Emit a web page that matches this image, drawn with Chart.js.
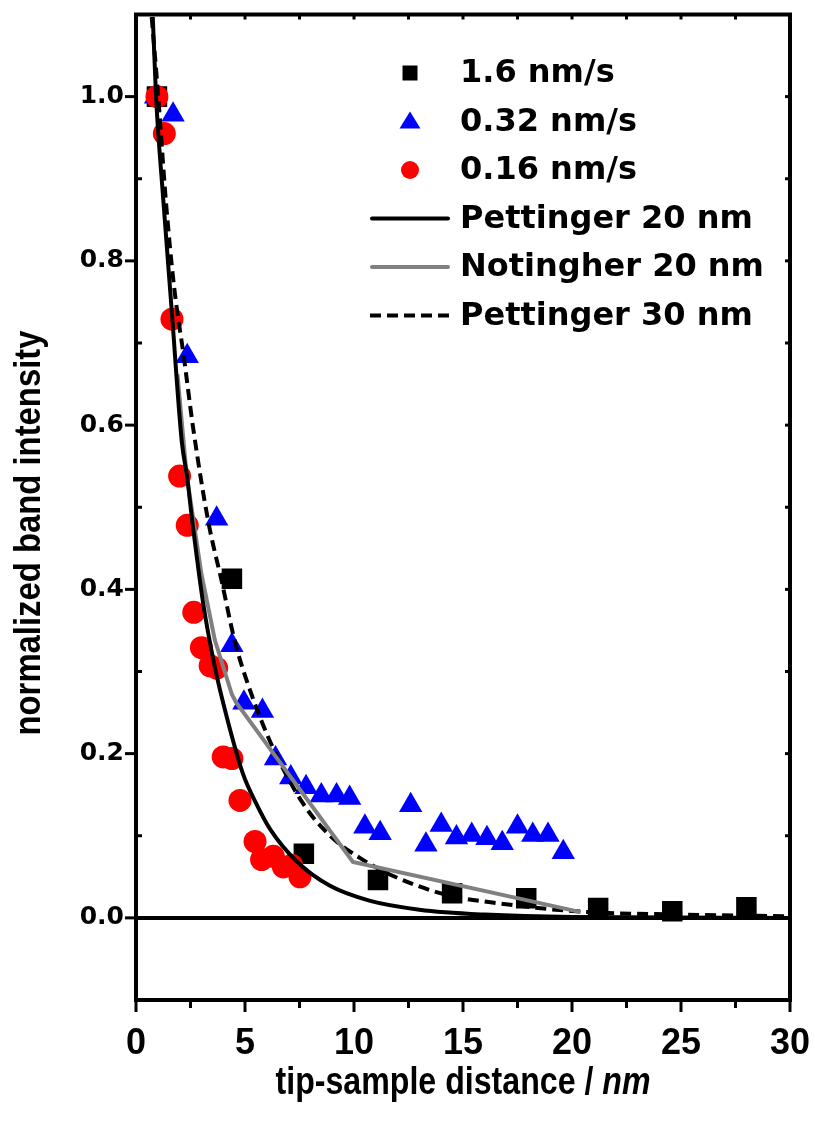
<!DOCTYPE html>
<html>
<head>
<meta charset="utf-8">
<script src="https://cdn.jsdelivr.net/npm/chart.js@4.4.1/dist/chart.umd.min.js"></script>
<style>
html,body{margin:0;padding:0;background:#fff;}
canvas{display:block;}
</style>
</head>
<body>
<canvas id="c" width="815" height="1124"></canvas>
<script>
// ---------- data ----------
const squareX   = [0.96, 4.4, 7.7, 11.1, 14.5, 17.9, 21.2, 24.6, 28.0];
const squareY   = [1.0, 0.413, 0.078, 0.046, 0.030, 0.024, 0.012, 0.008, 0.013];

const triangleX = [0.9, 1.7, 2.35, 3.7, 4.4, 4.95, 5.8, 6.4, 7.1, 7.8, 8.5, 9.2, 9.8, 10.5, 11.2, 12.6, 13.3, 14.0, 14.7, 15.4, 16.1, 16.8, 17.5, 18.2, 18.9, 19.6];
const triangleY = [1.0, 0.978, 0.684, 0.486, 0.332, 0.262, 0.252, 0.194, 0.171, 0.159, 0.149, 0.149, 0.146, 0.111, 0.103, 0.137, 0.089, 0.113, 0.098, 0.101, 0.097, 0.091, 0.111, 0.101, 0.101, 0.080];

const circleX   = [0.96, 1.3, 1.65, 2.0, 2.35, 2.65, 3.0, 3.4, 3.7, 4.0, 4.4, 4.77, 5.46, 5.76, 6.3, 6.76, 7.14, 7.52];
const circleY   = [1.0, 0.955, 0.729, 0.538, 0.478, 0.372, 0.329, 0.307, 0.304, 0.196, 0.194, 0.143, 0.093, 0.071, 0.075, 0.062, 0.064, 0.050];

const pett20X   = [0.77, 0.92, 1.25, 1.64, 2.1, 2.35, 2.55, 3.07, 3.62, 4.16, 4.9, 5.5, 6.15, 7.4, 8.9, 10.7, 13.0, 16.0, 20.0, 30.0];
const pett20Y   = [1.097, 1.0, 0.875, 0.739, 0.58, 0.536, 0.49, 0.385, 0.305, 0.245, 0.176, 0.14, 0.108, 0.068, 0.039, 0.021, 0.010, 0.004, 0.001, 0.0];

const noting20X = [1.9, 2.32, 3.0, 3.62, 4.4, 4.6, 9.95, 20.4];
const noting20Y = [0.662, 0.54, 0.419, 0.338, 0.272, 0.262, 0.068, 0.007];

const pett30X   = [0.72, 1.02, 1.38, 1.74, 2.2, 2.63, 3.32, 3.93, 4.54, 5.3, 6.3, 7.67, 8.9, 10.3, 11.8, 14.25, 16.7, 20.45, 25.0, 30.0];
const pett30Y   = [1.097, 1.0, 0.87, 0.77, 0.682, 0.595, 0.482, 0.41, 0.336, 0.272, 0.206, 0.139, 0.1, 0.0725, 0.051, 0.028, 0.0175, 0.0075, 0.004, 0.002];

const seriesLabels = ['1.6 nm/s', '0.32 nm/s', '0.16 nm/s', 'Pettinger 20 nm', 'Notingher 20 nm', 'Pettinger 30 nm'];

const xTickValues  = [0, 5, 10, 15, 20, 25, 30];
const xMinorValues = [2.5, 7.5, 12.5, 17.5, 22.5, 27.5];
const yTickValues  = [0, 0.2, 0.4, 0.6, 0.8, 1.0];
const yTickLabels  = ['0.0', '0.2', '0.4', '0.6', '0.8', '1.0'];
const yMinorValues = [-0.1, 0.1, 0.3, 0.5, 0.7, 0.9, 1.1];

const xTitleMain = 'tip-sample distance / ';
const xTitleUnit = 'nm';
const yTitle     = 'normalized band intensity';

// ---------- helpers ----------
const pts = (xs, ys) => xs.map((v, i) => ({x: v, y: ys[i]}));
const zeroPad = s => { s.paddingTop = 0; s.paddingBottom = 0; s.paddingLeft = 0; s.paddingRight = 0; };

const decor = {
  id: 'decor',
  beforeDatasetsDraw(chart) {
    const {ctx, chartArea: a, scales: {y}} = chart;
    const py = y.getPixelForValue(0);
    ctx.save();
    ctx.strokeStyle = '#000';
    ctx.lineWidth = 4;
    ctx.beginPath();
    ctx.moveTo(a.left, py);
    ctx.lineTo(a.right, py);
    ctx.stroke();
    ctx.restore();
  },
  afterDraw(chart) {
    const {ctx, chartArea: a, scales: {x, y}} = chart;
    ctx.save();
    ctx.strokeStyle = '#000';
    ctx.lineWidth = 3;
    xTickValues.forEach(v => {
      const px = x.getPixelForValue(v);
      ctx.beginPath(); ctx.moveTo(px, a.bottom); ctx.lineTo(px, a.bottom + 12); ctx.stroke();
      ctx.beginPath(); ctx.moveTo(px, a.top); ctx.lineTo(px, a.top + 5); ctx.stroke();
    });
    xMinorValues.forEach(v => {
      const px = x.getPixelForValue(v);
      ctx.beginPath(); ctx.moveTo(px, a.bottom); ctx.lineTo(px, a.bottom + 8); ctx.stroke();
      ctx.beginPath(); ctx.moveTo(px, a.top); ctx.lineTo(px, a.top + 5); ctx.stroke();
    });
    yTickValues.forEach(v => {
      const py = y.getPixelForValue(v);
      ctx.beginPath(); ctx.moveTo(a.left - 11, py); ctx.lineTo(a.left, py); ctx.stroke();
      ctx.beginPath(); ctx.moveTo(a.right, py); ctx.lineTo(a.right - 5, py); ctx.stroke();
    });
    yMinorValues.forEach(v => {
      const py = y.getPixelForValue(v);
      ctx.beginPath(); ctx.moveTo(a.left, py); ctx.lineTo(a.left + 6, py); ctx.stroke();
      ctx.beginPath(); ctx.moveTo(a.right, py); ctx.lineTo(a.right - 5, py); ctx.stroke();
    });
    ctx.lineWidth = 4;
    ctx.strokeRect(a.left, a.top, a.width, a.height);

    // axis titles
    ctx.fillStyle = '#000';
    ctx.textBaseline = 'middle';
    ctx.textAlign = 'left';
    const f1 = 'bold 39px "Liberation Sans", Arial, sans-serif';
    const f2 = 'italic bold 39px "Liberation Sans", Arial, sans-serif';
    ctx.font = f1; const w1 = ctx.measureText(xTitleMain).width;
    ctx.font = f2; const w2 = ctx.measureText(xTitleUnit).width;
    const sx = 375 / (w1 + w2);
    ctx.save();
    ctx.translate((a.left + a.right) / 2 - 375 / 2, 1083);
    ctx.scale(sx, 1);
    ctx.font = f1; ctx.fillText(xTitleMain, 0, 0);
    ctx.font = f2; ctx.fillText(xTitleUnit, w1, 0);
    ctx.restore();

    ctx.save();
    const f3 = 'bold 36px "Liberation Sans", Arial, sans-serif';
    ctx.font = f3;
    const wy = ctx.measureText(yTitle).width;
    const sy = 405 / wy;
    ctx.translate(30, 533);
    ctx.rotate(-Math.PI / 2);
    ctx.scale(sy, 1);
    ctx.textAlign = 'center';
    ctx.fillText(yTitle, 0, 0);
    ctx.restore();

    // legend
    const lx = 410, tx = 460, y0 = 73, dy = 48.5;
    ctx.font = 'bold 32px "DejaVu Sans", sans-serif';
    ctx.textAlign = 'left';
    ctx.textBaseline = 'middle';
    seriesLabels.forEach((t, i) => ctx.fillText(t, tx, y0 + i * dy + 1));
    ctx.fillStyle = '#000';
    ctx.fillRect(lx - 7.5, y0 - 7.5, 15, 15);
    ctx.fillStyle = '#0000ff';
    ctx.beginPath();
    ctx.moveTo(lx, y0 + dy - 10); ctx.lineTo(lx + 10.5, y0 + dy + 7); ctx.lineTo(lx - 10.5, y0 + dy + 7);
    ctx.closePath(); ctx.fill();
    ctx.fillStyle = '#ff0000';
    ctx.beginPath(); ctx.arc(lx, y0 + 2 * dy, 9, 0, Math.PI * 2); ctx.fill();
    ctx.lineWidth = 4;
    ctx.lineCap = 'round';
    ctx.strokeStyle = '#000';
    ctx.beginPath(); ctx.moveTo(372, y0 + 3 * dy); ctx.lineTo(448, y0 + 3 * dy); ctx.stroke();
    ctx.strokeStyle = '#808080';
    ctx.beginPath(); ctx.moveTo(372, y0 + 4 * dy); ctx.lineTo(448, y0 + 4 * dy); ctx.stroke();
    ctx.strokeStyle = '#000';
    ctx.lineCap = 'butt';
    ctx.setLineDash([11, 6]);
    ctx.beginPath(); ctx.moveTo(370, y0 + 5 * dy); ctx.lineTo(450, y0 + 5 * dy); ctx.stroke();
    ctx.setLineDash([]);
    ctx.restore();
  }
};

new Chart(document.getElementById('c'), {
  type: 'scatter',
  data: {
    datasets: [
      {label: seriesLabels[3], data: pts(pett20X, pett20Y), showLine: true, borderColor: '#000', borderWidth: 4, pointRadius: 0, cubicInterpolationMode: 'monotone', order: 0},
      {label: seriesLabels[4], data: pts(noting20X, noting20Y), showLine: true, borderColor: '#808080', borderWidth: 4, pointRadius: 0, tension: 0, order: 1},
      {label: seriesLabels[5], data: pts(pett30X, pett30Y), showLine: true, borderColor: '#000', borderWidth: 4, borderDash: [11, 6], pointRadius: 0, cubicInterpolationMode: 'monotone', order: 2},
      {label: seriesLabels[2], data: pts(circleX, circleY), pointStyle: 'circle', pointRadius: 11.5, backgroundColor: '#ff0000', pointBorderWidth: 0, order: 3},
      {label: seriesLabels[1], data: pts(triangleX, triangleY), pointStyle: 'triangle', pointRadius: 13.5, backgroundColor: '#0000ff', pointBorderWidth: 0, order: 4},
      {label: seriesLabels[0], data: pts(squareX, squareY), pointStyle: 'rect', pointRadius: 14.5, backgroundColor: '#000', pointBorderWidth: 0, order: 5}
    ]
  },
  options: {
    responsive: false,
    animation: false,
    events: [],
    devicePixelRatio: 1,
    layout: {padding: {top: 13, right: 25, left: 0, bottom: 0}},
    plugins: {legend: {display: false}, tooltip: {enabled: false}},
    scales: {
      x: {
        type: 'linear', min: 0, max: 30,
        afterFit(s) { s.height = 124; zeroPad(s); },
        grid: {display: false, drawTicks: false},
        border: {display: false},
        ticks: {
          stepSize: 5, padding: 22, color: '#000',
          font: {family: '"Liberation Sans", Arial, sans-serif', weight: 'bold', size: 36},
          callback: v => { const i = xTickValues.indexOf(v); return i >= 0 ? String(xTickValues[i]) : null; }
        }
      },
      y: {
        type: 'linear', min: -0.1, max: 1.1,
        afterFit(s) { s.width = 136; zeroPad(s); },
        grid: {display: false, drawTicks: false},
        border: {display: false},
        ticks: {
          stepSize: 0.1, padding: 12, color: '#000',
          font: {family: '"DejaVu Sans", sans-serif', weight: 'bold', size: 25},
          callback: v => { const i = yTickValues.findIndex(t => Math.abs(t - v) < 1e-9); return i >= 0 ? yTickLabels[i] : null; }
        }
      }
    }
  },
  plugins: [decor]
});
</script>
</body>
</html>
